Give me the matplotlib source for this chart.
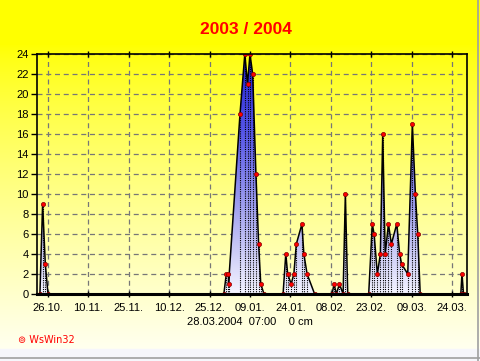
import numpy as np
import pandas as pd
import matplotlib
matplotlib.use("Agg")
import matplotlib.pyplot as plt
import matplotlib.dates as mdates
from matplotlib.colors import LinearSegmentedColormap
from matplotlib.patches import Polygon, Rectangle

plt.rcParams['font.family'] = ['Liberation Sans', 'DejaVu Sans']

# ---- data ----
times = [
    "2003-10-23 00:00", "2003-10-24 00:00", "2003-10-25 00:00", "2003-10-26 00:00",
    "2003-12-30 07:00", "2003-12-31 05:00", "2004-01-01 00:00", "2004-01-01 01:00",
    "2004-01-05 07:00", "2004-01-07 02:00", "2004-01-08 02:00", "2004-01-09 00:00",
    "2004-01-10 00:00", "2004-01-11 05:00", "2004-01-12 05:00", "2004-01-13 00:00",
    "2004-01-14 05:00",
    "2004-01-21 07:00", "2004-01-22 07:00", "2004-01-23 00:00", "2004-01-24 07:00",
    "2004-01-25 07:00", "2004-01-26 05:00", "2004-01-28 07:00", "2004-01-29 00:00",
    "2004-01-30 05:00", "2004-02-02 00:00",
    "2004-02-08 12:00", "2004-02-09 05:00", "2004-02-10 02:00", "2004-02-11 05:00",
    "2004-02-12 14:00", "2004-02-13 10:00", "2004-02-14 07:00",
    "2004-02-22 02:00", "2004-02-23 10:00", "2004-02-24 02:00", "2004-02-25 07:00",
    "2004-02-26 10:00", "2004-02-27 07:00", "2004-02-28 05:00", "2004-02-29 10:00",
    "2004-03-01 12:00", "2004-03-03 12:00", "2004-03-04 14:00", "2004-03-05 07:00",
    "2004-03-07 14:00", "2004-03-09 07:00", "2004-03-10 10:00", "2004-03-11 07:00",
    "2004-03-12 05:00",
    "2004-03-27 07:00", "2004-03-27 17:00", "2004-03-28 07:00",
]
snow_cm = [
    0, 9, 3, 0,
    0, 2, 2, 1,
    18, 24, 21, 24,
    22, 12, 5, 1,
    0,
    0, 4, 2, 1,
    2, 5, 7, 4,
    2, 0,
    0, 1, 0, 1,
    0, 10, 0,
    0, 7, 6, 2,
    4, 16, 4, 7,
    5, 7, 4, 3,
    2, 17, 10, 6,
    0,
    0, 2, 0,
]
tick_dates = ["2003-10-26", "2003-11-10", "2003-11-25", "2003-12-10", "2003-12-25",
              "2004-01-09", "2004-01-24", "2004-02-08", "2004-02-23", "2004-03-09",
              "2004-03-24"]
tick_labels = ["26.10.", "10.11.", "25.11.", "10.12.", "25.12.", "09.01.",
               "24.01.", "08.02.", "23.02.", "09.03.", "24.03."]
y_ticks = list(range(0, 25, 2))
title = "2003 / 2004"
subtitle = "28.03.2004  07:00    0 cm"
credit = "\u229a WsWin32"

# ---- figure ----
W, H = 481, 361
fig = plt.figure(figsize=(W / 100, H / 100), dpi=100)

# background gradient
bg = fig.add_axes([0, 0, 1, 1], zorder=-10)
bg.set_axis_off()
ny = 200
t = np.linspace(0, 1, ny)[:, None]
top = np.array([1.0, 1.0, 0.0])
bot = np.array([1.0, 1.0, 0.94])
ramp = np.clip((t - 0.12) / 0.85, 0, 1) ** 0.8
img = top * (1 - ramp[..., None]) + bot * ramp[..., None]
img = np.repeat(img, 2, axis=1)
bg.imshow(img, aspect='auto', extent=[0, 1, 0, 1], origin='upper')
bg.set_xlim(0, 1); bg.set_ylim(0, 1)
bg.add_patch(Rectangle((0, 0), 1, 12 / H, color='#f6f6fb', zorder=1))
bg.plot([0, 1], [3 / H, 3 / H], color='#a0a0a0', lw=1.2, zorder=2)
bg.plot([1 - 2.5 / W, 1 - 2.5 / W], [0, 1], color='#a0a0a0', lw=1.2, zorder=2)

ax = fig.add_axes([37 / W, 67 / H, 430 / W, 240 / H])
ax.set_facecolor('none')

x = mdates.date2num(pd.to_datetime(times))
y = np.array(snow_cm, dtype=float)

x0 = mdates.date2num(pd.Timestamp("2003-10-21 22:00"))
x1 = mdates.date2num(pd.Timestamp("2004-03-29 14:00"))
ax.set_xlim(x0, x1)
ax.set_ylim(0, 24)

# grid
for v in y_ticks[1:]:
    ax.axhline(v, color='#777777', lw=0.9, ls=(0, (4, 3)), zorder=1)
tx = mdates.date2num(pd.to_datetime(tick_dates))
for v in tx:
    ax.axvline(v, color='#777777', lw=0.9, ls=(0, (4, 3)), zorder=1)

# gradient fill under the curve
cmap = LinearSegmentedColormap.from_list('snow', ['#f4f4ff', '#a8a8f0', '#5858e8', '#2020d0'])
grad = np.linspace(0, 1, 256)[:, None]
im = ax.imshow(grad, cmap=cmap, aspect='auto', origin='lower',
               extent=[x0, x1, 0, 24], zorder=2, interpolation='bilinear')
poly_xy = np.column_stack([np.r_[x[0], x, x[-1]], np.r_[0, y, 0]])
poly = Polygon(poly_xy, closed=True, transform=ax.transData, facecolor='none', edgecolor='none')
ax.add_patch(poly)
im.set_clip_path(poly)

# dotted drop lines
ax.vlines(x[y > 0], 0, y[y > 0], colors='black', linestyles=(0, (1, 1)), lw=0.8, zorder=3)

ax.plot(x, y, color='black', lw=1.1, zorder=4)
ax.plot(x, y, ls='none', marker='o', ms=3.0, mfc='#ff0000', mec='#800000', mew=0.5, zorder=5)

ax.set_yticks(y_ticks)
ax.set_yticklabels([str(v) for v in y_ticks], fontsize=8)
ax.set_xticks(tx)
ax.set_xticklabels(tick_labels, fontsize=8)
ax.tick_params(axis='y', direction='out', length=4, width=1, pad=2, colors='black')
ax.tick_params(axis='x', direction='inout', length=5, width=1, pad=4, top=True, colors='black')

for s in ['left', 'right', 'top']:
    ax.spines[s].set_linewidth(1.2)
    ax.spines[s].set_zorder(6)
ax.spines['bottom'].set_linewidth(2.2)
ax.spines['bottom'].set_zorder(6)

fig.text(246 / W, 1 - 30 / H, title, color='#ff0000', fontsize=12.5, fontweight='bold',
         ha='center', va='center')
fig.text(250 / W, 1 - 322 / H, subtitle, color='black', fontsize=8, ha='center', va='center')
fig.text(18 / W, 1 - 340 / H, credit, color='#ff0000', fontsize=7, ha='left', va='center',
         family=['DejaVu Sans'])

fig.savefig('out.png', dpi=100)
